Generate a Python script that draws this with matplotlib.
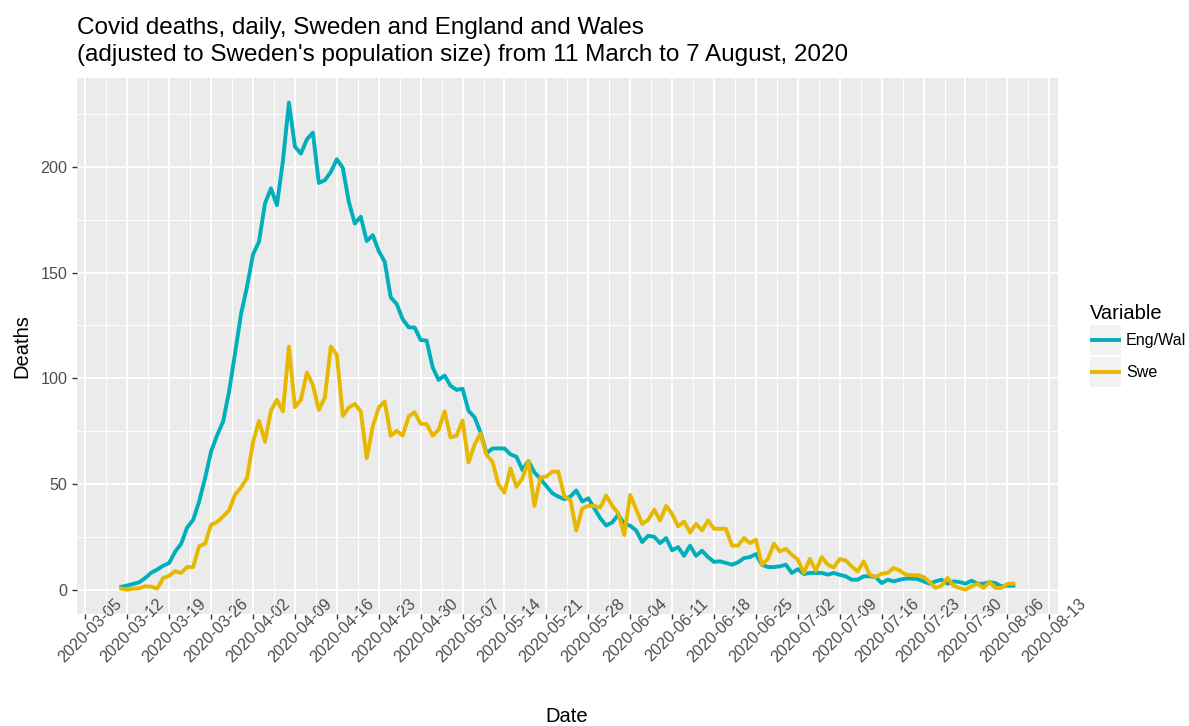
import numpy as np
import matplotlib
matplotlib.use("Agg")
import matplotlib.pyplot as plt
import matplotlib.dates as mdates
from matplotlib.patches import Rectangle
from matplotlib.lines import Line2D
from matplotlib.legend_handler import HandlerBase

plt.rcParams['font.family'] = ['Liberation Sans', 'DejaVu Sans']

# daily deaths, 11 March .. 7 August 2020
start_date = '2020-03-11'
end_date = '2020-08-08'   # exclusive

eng_wal = [
    1.3, 2.0, 2.7, 3.5, 5.5, 8.0, 9.5, 11.3, 12.6, 18.0,
    21.7, 29.4, 33.0, 41.7, 52.8, 65.4, 73.0, 79.5, 93.7, 111.8,
    130.4, 143.3, 158.6, 164.6, 182.7, 189.8, 181.9, 203.0, 230.4, 209.6,
    206.3, 213.0, 216.2, 192.4, 193.7, 197.6, 203.6, 199.5, 183.5, 173.2,
    176.4, 164.9, 167.7, 160.2, 155.1, 138.3, 135.1, 127.9, 124.1, 124.0,
    118.1, 117.8, 105.2, 99.2, 101.3, 96.4, 94.5, 95.0, 84.6, 81.6,
    74.4, 64.5, 66.8, 66.8, 66.8, 64.0, 62.9, 56.6, 60.8, 55.5,
    52.4, 49.0, 45.6, 44.0, 42.8, 44.0, 46.9, 41.7, 43.2, 38.5,
    33.8, 30.3, 31.8, 35.4, 31.1, 30.2, 28.0, 22.5, 25.5, 25.0,
    22.0, 24.4, 18.6, 20.1, 16.0, 20.8, 16.0, 18.4, 15.4, 13.1,
    13.4, 12.6, 11.8, 12.9, 14.9, 15.4, 16.8, 11.8, 10.7, 10.7,
    11.0, 11.8, 7.9, 9.7, 7.4, 7.9, 7.9, 7.9, 7.1, 7.9,
    7.0, 6.3, 4.7, 4.7, 6.3, 6.3, 6.0, 3.1, 4.7, 3.9,
    4.7, 5.2, 5.2, 5.0, 3.9, 2.8, 3.9, 4.7, 2.8, 3.9,
    3.6, 2.8, 4.2, 2.8, 2.8, 3.5, 3.1, 1.6, 1.9, 1.9,
]

swe = [
    0.5, 0.0, 0.5, 0.6, 1.6, 1.4, 0.5, 5.5, 6.6, 8.7,
    7.9, 10.7, 10.7, 20.5, 21.7, 30.7, 32.0, 34.6, 37.5, 44.9,
    48.3, 52.8, 69.6, 79.8, 70.0, 84.7, 89.8, 84.3, 115.0, 86.3,
    89.8, 102.7, 96.9, 85.0, 91.0, 115.0, 111.0, 82.2, 86.1, 87.9,
    84.3, 62.2, 77.2, 86.1, 89.0, 72.8, 75.1, 72.9, 81.9, 83.9,
    78.4, 78.3, 72.9, 75.6, 84.3, 72.0, 72.9, 80.0, 60.2, 68.5,
    73.9, 63.7, 60.5, 49.8, 45.9, 57.4, 48.7, 52.7, 60.8, 39.6,
    53.1, 53.5, 55.8, 55.8, 44.0, 42.5, 28.0, 38.5, 39.6, 39.6,
    38.8, 44.5, 39.6, 36.2, 25.9, 44.8, 38.0, 31.1, 33.0, 37.8,
    32.7, 39.6, 35.8, 29.9, 32.2, 27.0, 31.1, 28.0, 32.7, 28.8,
    28.8, 28.8, 20.8, 20.8, 24.4, 22.0, 23.6, 11.8, 14.5, 21.7,
    18.1, 19.3, 16.5, 14.2, 7.9, 14.5, 9.0, 15.4, 11.8, 10.5,
    14.5, 13.8, 11.0, 8.6, 13.4, 7.1, 6.0, 7.5, 7.9, 10.2,
    9.1, 7.1, 6.8, 6.8, 6.0, 3.6, 0.8, 1.9, 5.5, 1.9,
    0.8, 0.0, 1.6, 2.8, 0.8, 3.6, 0.8, 0.8, 2.8, 2.8,
]

series_names = ['Eng/Wal', 'Swe']
series_colors = ['#00AFBB', '#E7B800']

y_ticks = [0, 50, 100, 150, 200]
first_tick = '2020-03-05'
last_tick = '2020-08-14'   # exclusive

title_lines = [
    "Covid deaths, daily, Sweden and England and Wales",
    "(adjusted to Sweden's population size) from 11 March to 7 August, 2020",
]


class KeyHandler(HandlerBase):
    # ggplot style key: grey square with the line across its middle
    def create_artists(self, legend, orig_handle, xdescent, ydescent,
                       width, height, fontsize, trans):
        x0, y0 = -xdescent, -ydescent
        box = Rectangle((x0, y0), width, height, facecolor='#F2F2F2',
                        edgecolor='none', transform=trans)
        ym = y0 + height / 2
        line = Line2D([x0 + 0.07 * width, x0 + 0.93 * width], [ym, ym],
                      color=orig_handle.get_color(),
                      lw=orig_handle.get_linewidth(), transform=trans)
        return [box, line]


dates = np.arange(np.datetime64(start_date), np.datetime64(end_date))
x = mdates.date2num(dates)

fig = plt.figure(figsize=(11.89, 7.26), dpi=100)
ax = fig.add_axes([0.0645, 0.1543, 0.8253, 0.7379])
ax.set_facecolor('#EBEBEB')
for s in ax.spines.values():
    s.set_visible(False)
ax.set_axisbelow(True)

lw = 2.8
lines = []
for vals, name, col in zip([eng_wal, swe], series_names, series_colors):
    ln, = ax.plot(x, vals, color=col, lw=lw, label=name, solid_joinstyle='round')
    lines.append(ln)

# ggplot-like 5% expansion
xspan = x[-1] - x[0]
ax.set_xlim(x[0] - 0.05 * xspan, x[-1] + 0.05 * xspan)
allv = eng_wal + swe
yspan = max(allv) - min(allv)
ax.set_ylim(min(allv) - 0.05 * yspan, max(allv) + 0.05 * yspan)

tick_dates = np.arange(np.datetime64(first_tick), np.datetime64(last_tick), 7)
xt = mdates.date2num(tick_dates)
ax.set_xticks(xt)
ax.set_xticklabels([str(d) for d in tick_dates], rotation=45, ha='center',
                   va='top', rotation_mode='anchor')
lo, hi = ax.get_xlim()
xminor = [v + 3.5 for v in xt if lo < v + 3.5 < hi]
ax.set_xticks(xminor, minor=True)

ax.set_yticks(y_ticks)
ax.set_yticks([v + 25 for v in y_ticks], minor=True)

ax.grid(which='major', color='white', lw=1.4)
ax.grid(which='minor', color='white', lw=0.7)
ax.tick_params(which='major', length=3.6, width=1.0, color='#333333',
               labelcolor='#4D4D4D', labelsize=11.6)
ax.tick_params(axis='x', which='major', pad=4.3)
ax.tick_params(axis='y', which='major', pad=2.9)
ax.tick_params(which='minor', length=0)

# titles
fig.text(77 / 1189, 1 - 34 / 726, title_lines[0], ha='left', va='baseline',
         fontsize=17.5, color='black')
fig.text(77 / 1189, 1 - 61 / 726, title_lines[1], ha='left', va='baseline',
         fontsize=17.5, color='black')
fig.text(0.4769, 1 - 716 / 726, 'Date', ha='center', va='center', fontsize=14.5)
fig.text(22 / 1189, 0.5234, 'Deaths', rotation=90, ha='center', va='center',
         fontsize=14.5)

fig.legend(lines, series_names, handler_map={Line2D: KeyHandler()},
           loc='upper left', bbox_to_anchor=(1090 / 1189, 1 - 304 / 726),
           frameon=False, fontsize=11.6, title='Variable',
           title_fontproperties={'size': 14.5}, alignment='left',
           borderpad=0, borderaxespad=0, handlelength=1.93, handleheight=2.49,
           labelspacing=0.12, handletextpad=0.31)

fig.savefig('out.png', dpi=100, facecolor='white')
